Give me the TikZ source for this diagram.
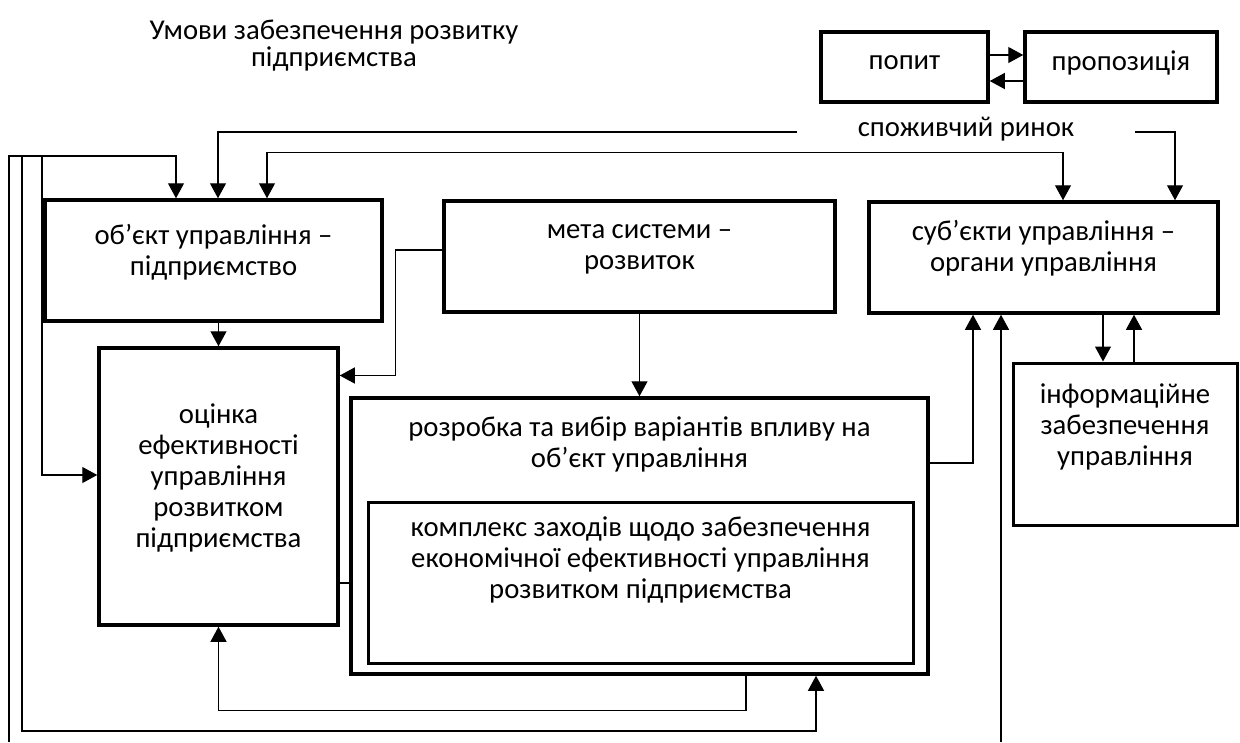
\documentclass[tikz,border=0pt]{standalone}
\usepackage{fontspec}
\setmainfont{Carlito}
\usetikzlibrary{positioning,arrows.meta}

\tikzset{
  box/.style={draw, line width=3.5pt, inner sep=0pt},
  txt/.style={align=center, inner sep=0pt, font=\fontsize{28.7}{31}\selectfont},
  arr/.style={line width=1.2pt, -{Triangle[length=15pt,width=16pt]}},
  link/.style={line width=1.2pt}
}

\begin{document}
\begin{tikzpicture}[x=1pt, y=-1pt]
 \useasboundingbox (0,0) rectangle (1240,742);

 % title and market
 \node[txt, font=\fontsize{28.7}{27}\selectfont, anchor=north] (title) at (334,20) {Умови забезпечення розвитку\\підприємства};
 \node[box, minimum width=167pt, minimum height=70pt] (pop) at (904.5,67) {};
 \node[box, minimum width=192pt, minimum height=70pt] (prop) at (1121,67) {};
 \node[txt, yshift=4pt] (popT) at (pop) {попит};
 \node[txt, yshift=4pt] (propT) at (prop) {пропозиція};
 \node[txt] (rinok) at (966,129) {споживчий ринок};
 \coordinate (rinL) at (797,132);
 \coordinate (rinR) at (1135,132);

 % boxes
 \node[box, minimum width=337pt, minimum height=121pt] (obj) at (213.5,260.5) {};
 \node[box, minimum width=391pt, minimum height=111pt] (meta) at (639.5,256.5) {};
 \node[box, minimum width=349pt, minimum height=111pt] (sub) at (1043.5,257.5) {};
 \node[box, minimum width=239pt, minimum height=277pt] (ots) at (218.5,486.5) {};
 \node[box, minimum width=577pt, minimum height=276pt] (rozr) at (639.5,536) {};
 \node[box, line width=3pt, minimum width=545pt, minimum height=161pt] (kompl) at (640.5,582.5) {};
 \node[box, line width=3pt, minimum width=224pt, minimum height=162pt] (info) at (1125,444) {};

 \node[txt, below=26pt of obj.north] (objT) {об’єкт управління –\\підприємство};
 \node[txt, below=25pt of meta.north] (metaT) {мета системи –\\розвиток};
 \node[txt, below=20pt of sub.north] (subT) {суб’єкти управління –\\органи управління};
 \node[txt, below=57pt of ots.north] (otsT) {оцінка\\ефективності\\управління\\розвитком\\підприємства};
 \node[txt, below=20pt of rozr.north] (rozrT) {розробка та вибір варіантів впливу на\\об’єкт управління};
 \node[txt, below=16pt of kompl.north] (komplT) {комплекс заходів щодо забезпечення\\економічної ефективності управління\\розвитком підприємства};
 \node[txt, below=22pt of info.north] (infoT) {інформаційне\\забезпечення\\управління};

 % market links
 \draw[arr] ([yshift=12pt]pop.east) -- ([yshift=12pt]prop.west);
 \draw[arr] ([yshift=-14pt]prop.west) -- ([yshift=-14pt]pop.east);
 \draw[arr] (rinL) -| ([xshift=4.5pt]obj.north);
 \draw[arr] (rinR) -| ([xshift=131.5pt]sub.north);
 \draw[line width=1.2pt, {Triangle[length=15pt,width=16pt]}-{Triangle[length=15pt,width=16pt]}]
   ([xshift=53.5pt]obj.north) -- ++(0,-46) -| ([xshift=19.5pt]sub.north);

 % left bus
 \coordinate (edgeL) at (9,742);
 \coordinate (busTop) at (9,156);
 \coordinate (busA) at (22,156);
 \coordinate (busB) at (42,156);
 \draw[arr] (edgeL) -- (busTop) -| ([xshift=-37.5pt]obj.north);
 \draw[arr] (busB) |- ([yshift=11.5pt]ots.west);
 \draw[arr] (busA) -- (22,731) -| ([xshift=176.5pt]rozr.south);

 % inner links
 \draw[arr] (ots.north |- obj.south) -- (ots.north);
 \draw[arr] (meta.south) -- (meta.south |- rozr.north);
 \draw[arr] ([yshift=6.5pt]meta.west) -- ++(-47,0) |- ([yshift=111pt]ots.east);
 \draw[link] ([yshift=-96.5pt]ots.east) -- ([yshift=-96.5pt]ots.east -| rozr.west);
 \draw[arr] ([yshift=73pt]rozr.east) -| ([xshift=-70.5pt]sub.south);
 \draw[arr] ([xshift=106.5pt]rozr.south) -- ++(0,35) -| (ots.south);

 % right side
 \coordinate (edgeR) at (1001,742);
 \draw[arr] (edgeR) -- (edgeR |- sub.south);
 \draw[arr] ([xshift=59.5pt]sub.south) -- ([xshift=59.5pt]sub.south |- info.north);
 \draw[arr] ([xshift=9pt]info.north) -- ([xshift=9pt]info.north |- sub.south);
\end{tikzpicture}
\end{document}
